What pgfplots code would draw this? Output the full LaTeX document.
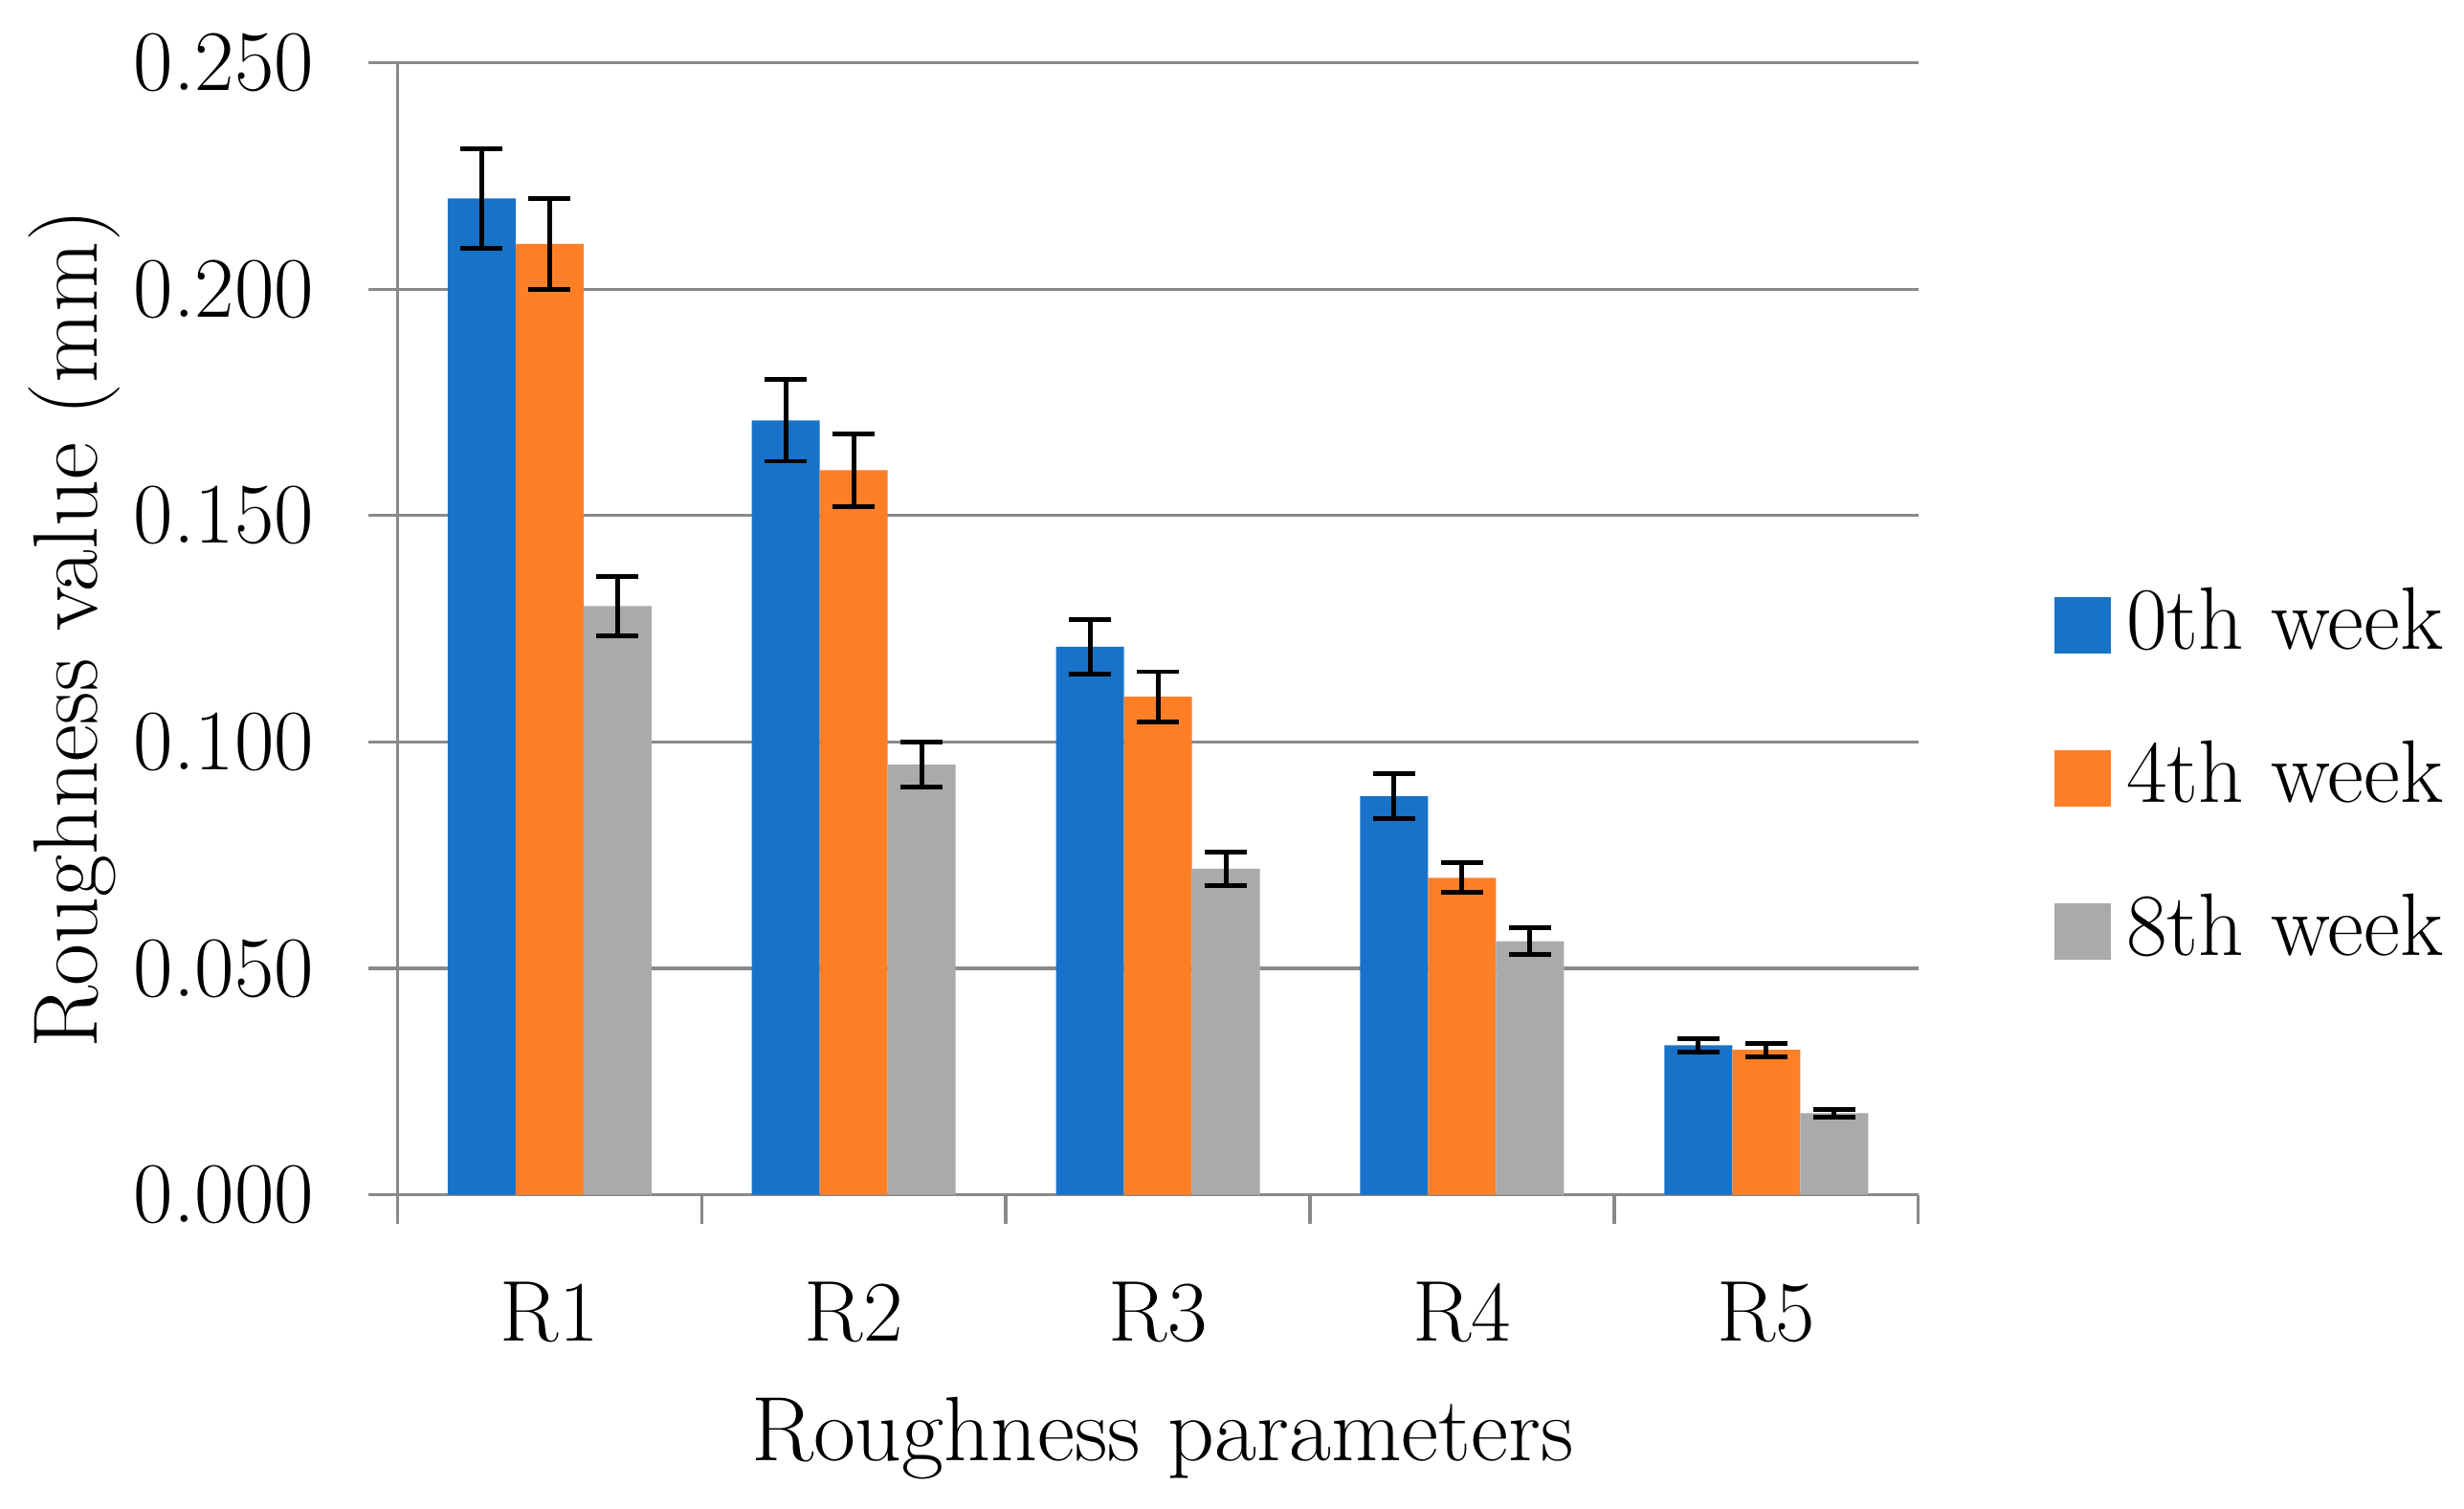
\documentclass[border=0pt]{standalone}
\usepackage{fontspec}
\usepackage{pgfplots}
\pgfplotsset{compat=1.18}
\definecolor{cblue}{RGB}{24,115,200}
\definecolor{corange}{RGB}{255,127,39}
\definecolor{cgray}{RGB}{170,170,170}
\definecolor{gridgray}{RGB}{137,137,137}
\begin{document}
\begin{tikzpicture}
\fontsize{16.5}{19}\selectfont
\begin{axis}[
  at={(0,0)}, anchor=south west,
  scale only axis,
  width=291pt, height=216.6pt,
  ybar=0pt, bar width=13pt,
  xmin=0.5, xmax=5.5, ymin=0, ymax=0.25,
  axis x line*=bottom, axis y line*=left,
  axis line style={gridgray, line width=0.6pt},
  tick align=outside,
  major tick length=5.5pt,
  tick style={gridgray, line width=0.6pt},
  xtick={0.5,1.5,...,5.5}, xticklabels={},
  extra x ticks={1,2,3,4,5},
  extra x tick labels={R1,R2,R3,R4,R5},
  extra x tick style={tick style={draw=none}, x tick label style={yshift=-5.5pt}},
  ytick={0,0.05,...,0.25},
  yticklabels={0.000,0.050,0.100,0.150,0.200,0.250},
  y tick label style={xshift=-4.8pt},
  ymajorgrids, grid style={gridgray, line width=0.6pt},
  tick label style={font=\fontsize{16.5}{19}\selectfont},
  label style={font=\fontsize{17.5}{20}\selectfont},
  xlabel={Roughness parameters},
  ylabel={Roughness value (mm)},
  xlabel style={at={(axis description cs:0.503,-0.215)}, anchor=center},
  ylabel style={at={(axis description cs:-0.2124,0.5)}, anchor=center},
  legend style={draw=none, fill=none, at={(axis description cs:1.0887,0.368)}, anchor=west,
    font=\fontsize{17}{20}\selectfont, row sep=11pt, inner sep=0pt,
    legend cell align=left, nodes={inner xsep=3pt}},
  legend image code/.code={\fill[#1] (0pt,-5.4pt) rectangle (10.8pt,5.4pt);},
  error bars/error bar style={black, line width=0.9pt},
  error bars/error mark options={black, rotate=90, mark size=4pt, line width=0.9pt},
]
\addplot[fill=cblue, draw=none, error bars/.cd, y dir=both, y explicit]
  coordinates {(1,0.220) +- (0,0.011) (2,0.171) +- (0,0.009) (3,0.121) +- (0,0.006) (4,0.088) +- (0,0.005) (5,0.033) +- (0,0.0015)};
\addplot[fill=corange, draw=none, error bars/.cd, y dir=both, y explicit]
  coordinates {(1,0.210) +- (0,0.010) (2,0.160) +- (0,0.008) (3,0.110) +- (0,0.0055) (4,0.070) +- (0,0.0033) (5,0.032) +- (0,0.0015)};
\addplot[fill=cgray, draw=none, error bars/.cd, y dir=both, y explicit]
  coordinates {(1,0.130) +- (0,0.0065) (2,0.095) +- (0,0.005) (3,0.072) +- (0,0.0037) (4,0.056) +- (0,0.003) (5,0.018) +- (0,0.0008)};
\legend{0th week,4th week,8th week}
\end{axis}
\path[use as bounding box] (-75pt,-60pt) rectangle (395.4pt,228.6pt);
\end{tikzpicture}
\end{document}
